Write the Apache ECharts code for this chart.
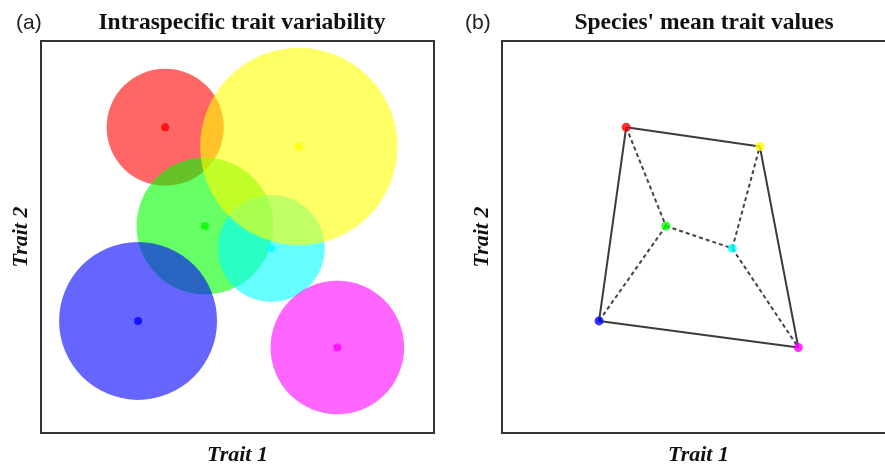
<!DOCTYPE html>
<html><head><meta charset="utf-8">
<script src="https://cdn.jsdelivr.net/npm/echarts@6/dist/echarts.min.js"></script>
<style>html,body{margin:0;padding:0;background:#fff}#c{width:885px;height:467px}</style>
</head><body><div id="c"></div>
<script>
const species = ['red','green','blue','cyan','yellow','magenta'];
const colors = ['#ff0000','#00ff00','#0000ff','#00ffff','#ffff00','#ff00ff'];
const trait1 = [31.6, 41.7, 24.7, 58.6, 65.6, 75.4];
const trait2 = [78.0, 52.8, 28.6, 47.1, 73.1, 21.8];
const spread = [14.9, 17.4, 20.1, 13.6, 25.1, 17.0];
const hull = ['red','yellow','magenta','blue','red'];
const links = [['red','green'],['green','blue'],['green','cyan'],['cyan','yellow'],['cyan','magenta']];
const panelTitles = ['Intraspecific trait variability', "Species' mean trait values"];
const panelTags = ['(a)', '(b)'];
const axisNames = ['Trait 1', 'Trait 2'];

const pt = n => { const i = species.indexOf(n); return [trait1[i], trait2[i]]; };
const serif = 'Liberation Serif';
const nameStyle = {fontFamily: serif, fontWeight: 'bold', fontStyle: 'italic', fontSize: 22, color: '#111'};
function mkX(g){return {gridIndex:g,type:'value',min:0,max:100,axisLine:{show:false},axisTick:{show:false},axisLabel:{show:false},splitLine:{show:false},name:axisNames[0],nameLocation:'middle',nameGap:11,nameTextStyle:nameStyle};}
function mkY(g){return {gridIndex:g,type:'value',min:0,max:100,axisLine:{show:false},axisTick:{show:false},axisLabel:{show:false},splitLine:{show:false},name:axisNames[1],nameLocation:'middle',nameGap:9,nameTextStyle:nameStyle};}

const chart = echarts.init(document.getElementById('c'), null, {renderer:'canvas'});
chart.setOption({
  animation:false,
  backgroundColor:'#fff',
  title:[
    {text:panelTitles[0], left:237, top:6, textAlign:'center', textStyle:{fontFamily:serif,fontWeight:'bold',fontSize:23.5,color:'#111'}},
    {text:panelTitles[1], left:699, top:6, textAlign:'center', textStyle:{fontFamily:serif,fontWeight:'bold',fontSize:23.5,color:'#111'}},
    {text:panelTags[0], left:11, top:8, textStyle:{fontFamily:'Liberation Sans',fontWeight:'normal',fontSize:21,color:'#222'}},
    {text:panelTags[1], left:460, top:8, textStyle:{fontFamily:'Liberation Sans',fontWeight:'normal',fontSize:21,color:'#222'}}
  ],
  grid:[
    {left:41,top:41,width:393,height:392,outerBoundsMode:'none',show:true,borderColor:'#333',borderWidth:2,backgroundColor:'transparent'},
    {left:502,top:41,width:393,height:392,outerBoundsMode:'none',show:true,borderColor:'#333',borderWidth:2,backgroundColor:'transparent'}
  ],
  xAxis:[mkX(0),mkX(1)],
  yAxis:[mkY(0),mkY(1)],
  series:[
    {type:'custom',xAxisIndex:0,yAxisIndex:0,z:2,
     data:species.map((s,i)=>[trait1[i],trait2[i],spread[i],i]),
     renderItem:function(params,api){
       const c=api.coord([api.value(0),api.value(1)]);
       const sz=api.size([api.value(2),api.value(2)]);
       return {type:'circle',shape:{cx:c[0],cy:c[1],r:sz[0]},style:{fill:colors[api.value(3)],opacity:0.6}};
     }},
    {type:'scatter',xAxisIndex:0,yAxisIndex:0,z:5,symbolSize:8,
     data:species.map((s,i)=>({value:[trait1[i],trait2[i]],itemStyle:{color:colors[i]}}))},
    {type:'line',xAxisIndex:1,yAxisIndex:1,z:3,symbol:'none',
     data:hull.map(pt),lineStyle:{color:'#3c3c3c',width:2}},
    {type:'lines',coordinateSystem:'cartesian2d',xAxisIndex:1,yAxisIndex:1,z:3,
     data:links.map(l=>({coords:[pt(l[0]),pt(l[1])]})),
     lineStyle:{color:'#444',width:2,type:[4,3],opacity:1}},
    {type:'scatter',xAxisIndex:1,yAxisIndex:1,z:5,symbolSize:9,
     data:species.map((s,i)=>({value:[trait1[i],trait2[i]],itemStyle:{color:colors[i]}}))}
  ]
});
</script></body></html>
